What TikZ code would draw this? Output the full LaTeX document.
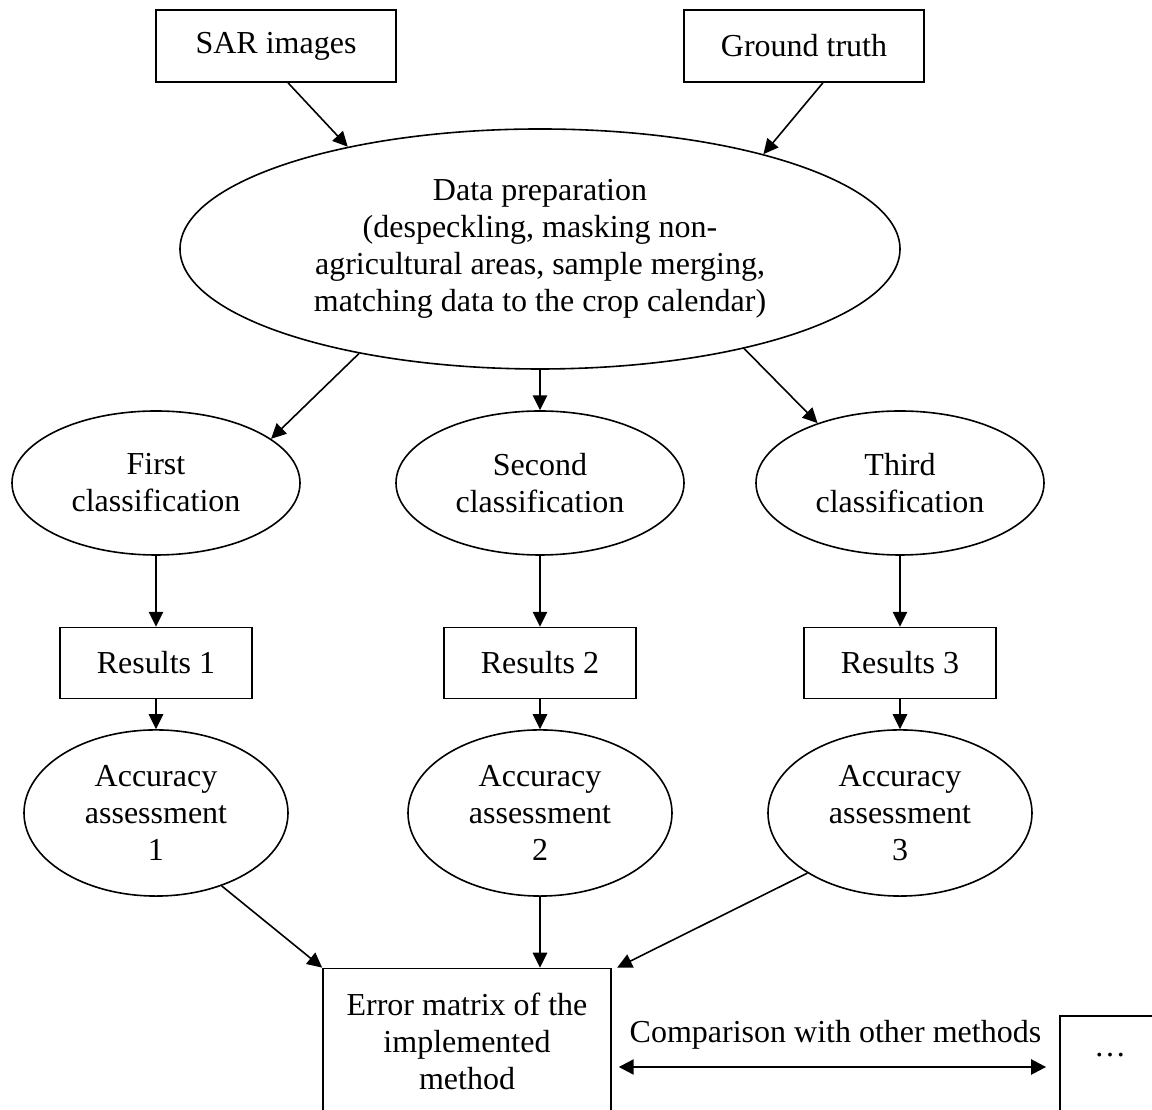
\documentclass[tikz,border=0pt]{standalone}
\usepackage{fontspec}
\setmainfont{Liberation Serif}
\usetikzlibrary{shapes.geometric,arrows.meta}

\begin{document}
\begin{tikzpicture}[x=0.375pt, y=-0.375pt, line width=0.6pt]
    \tikzset{
        box/.style={draw, rectangle, inner sep=0pt, align=center, font=\fontsize{12}{13.9}\selectfont},
        oval/.style={draw, ellipse, inner sep=0pt, align=center, font=\fontsize{12}{13.9}\selectfont},
        arc/.style={-{Triangle[length=5.6pt, width=5.4pt]}},
        both/.style={{Triangle[length=5.6pt, width=5.6pt]}-{Triangle[length=5.6pt, width=5.6pt]}, line width=0.9pt}
    }
    \useasboundingbox (0,0) rectangle (1152,1110);

    \draw node[box, minimum width=90pt, minimum height=27pt] (sar) at (276,46) {SAR images};
    \draw node[box, minimum width=90pt, minimum height=27pt] (gt) at (804,46) {Ground truth};
    \draw node[oval, minimum width=270pt, minimum height=90pt] (data) at (540,249)
        {Data preparation\\(despeckling, masking non-\\agricultural areas, sample merging,\\matching data to the crop calendar)};

    \draw node[oval, minimum width=108pt, minimum height=54pt] (first) at (156,483) {First\\classification};
    \draw node[oval, minimum width=108pt, minimum height=54pt] (second) at (540,483) {Second\\classification};
    \draw node[oval, minimum width=108pt, minimum height=54pt] (third) at (900,483) {Third\\classification};

    \draw node[box, minimum width=72pt, minimum height=26.6pt] (res1) at (156,663) {Results 1};
    \draw node[box, minimum width=72pt, minimum height=26.6pt] (res2) at (540,663) {Results 2};
    \draw node[box, minimum width=72pt, minimum height=26.6pt] (res3) at (900,663) {Results 3};

    \draw node[oval, minimum width=99pt, minimum height=62.3pt] (acc1) at (156,813) {Accuracy\\assessment\\1};
    \draw node[oval, minimum width=99pt, minimum height=62.3pt] (acc2) at (540,813) {Accuracy\\assessment\\2};
    \draw node[oval, minimum width=99pt, minimum height=62.3pt] (acc3) at (900,813) {Accuracy\\assessment\\3};

    \draw node[box, minimum width=108pt, minimum height=54.4pt] (err) at (467,1041)
        {Error matrix of the\\implemented\\method};
    \draw node[box, minimum width=37.5pt, minimum height=38.3pt] (dots) at (1110,1067)
        {\raisebox{3.75pt}[0pt][0pt]{\textellipsis}};

    \foreach \x/\y in {%
        data/second,first/res1,second/res2,third/res3,res1/acc1,res2/acc2,res3/acc3%
    }{
        \draw (\x) edge[arc] (\y);
    }

    \draw ([xshift=4.5pt]sar.south) edge[arc] (data.152);
    \draw ([xshift=7.1pt]gt.south) edge[arc] (data.23);
    \draw (data.210) edge[arc] (first.21);
    \draw (data.-26) edge[arc] (third.144);
    \draw (acc1.-48) edge[arc] (err.north west);
    \draw (acc2.south) edge[arc] (acc2.south |- err.north);
    \draw (acc3.213) edge[arc] ([xshift=2pt]err.north east);

    \draw[both, shorten <=2.6pt, shorten >=4.9pt] (err.east |- dots.west) -- (dots.west)
        node[midway, above=6pt, inner sep=0pt, font=\fontsize{12}{13.9}\selectfont] {Comparison with other methods};
\end{tikzpicture}
\end{document}
